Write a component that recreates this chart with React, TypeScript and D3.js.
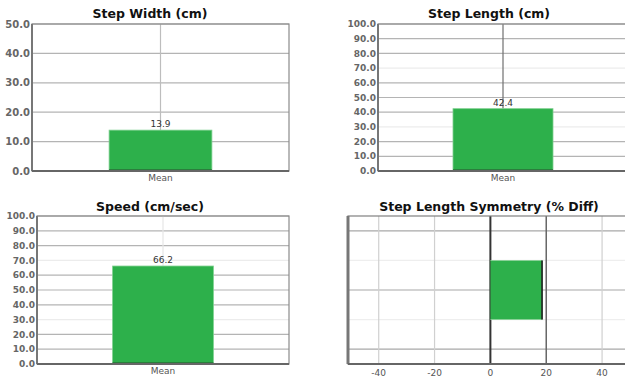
import React from "react";
import * as d3 from "d3";

// ---------- data ----------
const categories = ["Mean"];
const stepWidthValues = [13.9];
const stepLengthValues = [42.4];
const speedValues = [66.2];
const symmetryValues = [18.5];

const titles = ["Step Width (cm)", "Step Length (cm)", "Speed (cm/sec)", "Step Length Symmetry (% Diff)"];
const stepWidthTicks = [0, 10, 20, 30, 40, 50];
const hundredTicks = [0, 10, 20, 30, 40, 50, 60, 70, 80, 90, 100];
const symmetryXTicks = [-40, -20, 0, 20, 40];
const symmetryRows = [0.5, 1.5, 2.5, 3.5, 4.5];
const symmetryBarRows = [1.5, 3.5];

const GREEN = "#2db04b";
const FONT = "'DejaVu Sans', Verdana, sans-serif";

type BarPanel = {
  title: string;
  titleX: number;
  titleY: number;
  values: number[];
  ticks: number[];
  max: number;
  left: number;
  right: number;
  top: number;
  bottom: number;
  tickFont: number;
  centerColor: string;
  faint: number[];
};

function VerticalBarPanel({ p }: { p: BarPanel }) {
  const x = d3.scaleBand<string>().domain(categories).range([p.left, p.right]).paddingInner(0).paddingOuter(0);
  const y = d3.scaleLinear().domain([0, p.max]).range([p.bottom, p.top]);
  const bw = x.bandwidth() * 0.4;
  return (
    <g>
      <text x={p.titleX} y={p.titleY} textAnchor="middle" fontFamily={FONT} fontWeight="bold" fontSize={12.5} fill="#111">
        {p.title}
      </text>
      {p.ticks.map((t) => (
        <g key={t}>
          <line
            x1={p.left}
            x2={p.right}
            y1={y(t)}
            y2={y(t)}
            stroke={p.faint.includes(t) ? "#ececec" : "#b4b4b4"}
            strokeWidth={1.2}
          />
          <text
            x={p.left - 2}
            y={y(t)}
            dy="0.35em"
            textAnchor="end"
            fontFamily={FONT}
            fontWeight="bold"
            fontSize={p.tickFont}
            fill="#666"
          >
            {t.toFixed(1)}
          </text>
        </g>
      ))}
      {categories.map((c, i) => {
        const cx = (x(c) as number) + x.bandwidth() / 2;
        const v = p.values[i];
        return (
          <g key={c}>
            <line x1={cx} x2={cx} y1={p.top} y2={y(v)} stroke={p.centerColor} strokeWidth={1.2} />
            <rect x={cx - bw / 2} y={y(v)} width={bw} height={p.bottom - y(v)} fill={GREEN} stroke="#7fd08f" strokeWidth={0.8} />
            <line x1={cx - bw / 2} x2={cx + bw / 2} y1={p.bottom - 1} y2={p.bottom - 1} stroke="#2a6e37" strokeWidth={1.5} />
            <text x={cx} y={y(v) - 3} textAnchor="middle" fontFamily={FONT} fontSize={9} fill="#333">
              {v.toFixed(1)}
            </text>
            <text x={cx} y={p.bottom + 10} textAnchor="middle" fontFamily={FONT} fontSize={9} fill="#555">
              {c}
            </text>
          </g>
        );
      })}
      <rect x={p.left} y={p.top} width={p.right - p.left} height={p.bottom - p.top} fill="none" stroke="#8a8a8a" strokeWidth={1.2} />
      <line x1={p.left} x2={p.left} y1={p.top} y2={p.bottom} stroke="#777" strokeWidth={2} />
      <line x1={p.left} x2={p.right} y1={p.bottom} y2={p.bottom} stroke="#666" strokeWidth={2} />
    </g>
  );
}

function SymmetryPanel() {
  const left = 348;
  const right = 630;
  const top = 216;
  const bottom = 364;
  const x = d3.scaleLinear().domain([-51, 50]).range([left, right]);
  const y = d3.scaleLinear().domain([0, 5]).range([top, bottom]);
  const v = symmetryValues[0];
  const vStyle = (t: number) =>
    t === 0 ? { c: "#333", w: 2 } : t === 20 ? { c: "#666", w: 1.5 } : { c: "#d0d0d0", w: 1.2 };
  return (
    <g>
      <text x={489} y={211} textAnchor="middle" fontFamily={FONT} fontWeight="bold" fontSize={12.5} fill="#111">
        {titles[3]}
      </text>
      {symmetryRows.map((r) => (
        <line
          key={r}
          x1={left}
          x2={right}
          y1={y(r)}
          y2={y(r)}
          stroke={symmetryBarRows.includes(r) ? "#eeeeee" : "#a8a8a8"}
          strokeWidth={1.2}
        />
      ))}
      {symmetryXTicks.map((t) => {
        const s = vStyle(t);
        return (
          <g key={t}>
            <line x1={x(t)} x2={x(t)} y1={top} y2={bottom} stroke={s.c} strokeWidth={s.w} />
            <text x={x(t)} y={bottom + 12} textAnchor="middle" fontFamily={FONT} fontSize={9} fill="#555">
              {t}
            </text>
          </g>
        );
      })}
      <rect
        x={x(0)}
        y={y(symmetryBarRows[0])}
        width={x(v) - x(0)}
        height={y(symmetryBarRows[1]) - y(symmetryBarRows[0])}
        fill={GREEN}
        stroke="#8fd49c"
        strokeWidth={0.8}
      />
      <line x1={x(v)} x2={x(v)} y1={y(symmetryBarRows[0])} y2={y(symmetryBarRows[1])} stroke="#111" strokeWidth={1.5} />
      <line x1={x(0)} x2={x(0)} y1={y(symmetryBarRows[0])} y2={y(symmetryBarRows[1])} stroke="#2a6e37" strokeWidth={1} />
      <rect x={left} y={top} width={right - left} height={bottom - top} fill="none" stroke="#808080" strokeWidth={1.2} />
      <line x1={left} x2={left} y1={top} y2={bottom} stroke="#777" strokeWidth={3} />
      <line x1={left} x2={right} y1={bottom} y2={bottom} stroke="#666" strokeWidth={2} />
    </g>
  );
}

export default function App() {
  const panels: BarPanel[] = [
    {
      title: titles[0], titleX: 150, titleY: 18, values: stepWidthValues, ticks: stepWidthTicks, max: 50,
      left: 32, right: 289, top: 24, bottom: 171, tickFont: 10, centerColor: "#bdbdbd", faint: [],
    },
    {
      title: titles[1], titleX: 489, titleY: 18, values: stepLengthValues, ticks: hundredTicks, max: 100,
      left: 378, right: 628, top: 24, bottom: 171, tickFont: 9, centerColor: "#707070", faint: [30, 70],
    },
    {
      title: titles[2], titleX: 150, titleY: 211, values: speedValues, ticks: hundredTicks, max: 100,
      left: 37, right: 289, top: 216, bottom: 364, tickFont: 9, centerColor: "#e6e6e6", faint: [30, 70],
    },
  ];
  return (
    <svg
      width={625}
      height={379}
      style={{ position: "absolute", left: 0, top: 0, background: "#fff" }}
    >
      <rect width={625} height={379} fill="#fff" />
      {panels.map((p) => (
        <VerticalBarPanel key={p.title} p={p} />
      ))}
      <SymmetryPanel />
    </svg>
  );
}
